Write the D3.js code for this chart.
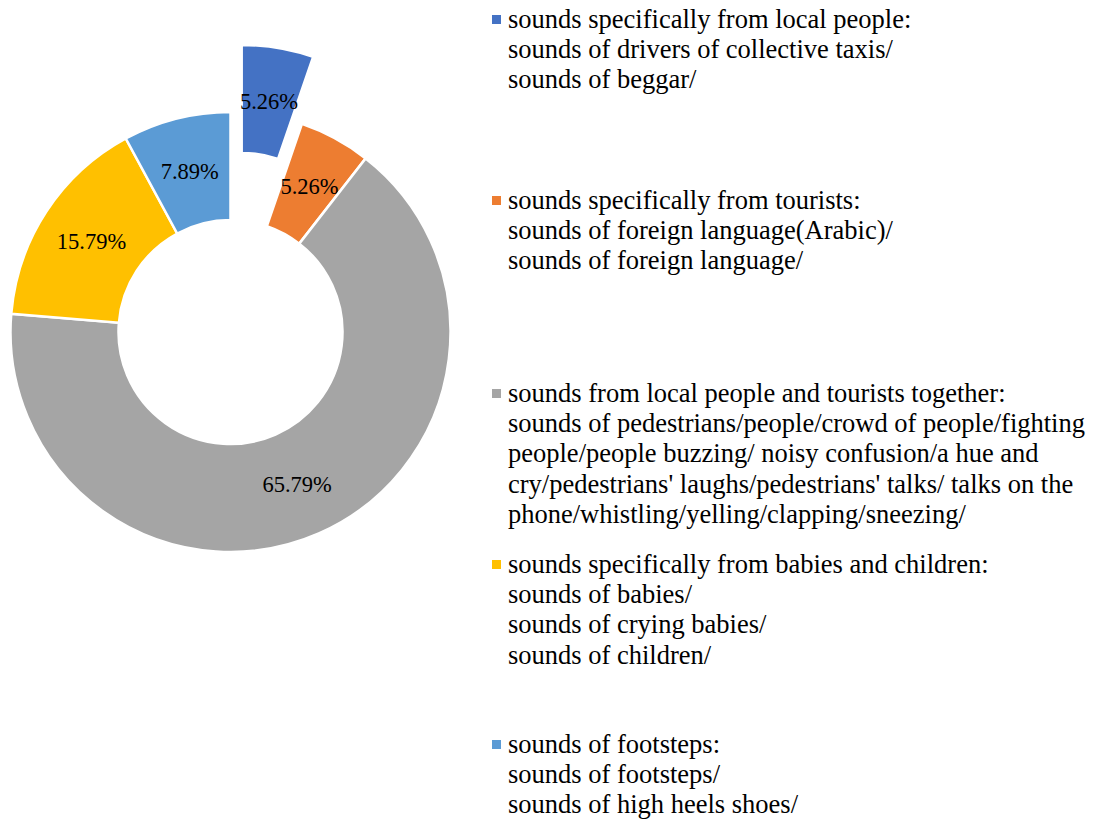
<!DOCTYPE html>
<html>
<head>
<meta charset="utf-8">
<script src="https://cdn.jsdelivr.net/npm/d3@7"></script>
<style>
  body { margin: 0; background: #fff; }
</style>
</head>
<body>
<div id="chart"></div>
<script>
// Slice counts (percent labels come from these)
const categories = [
  'local people',
  'tourists',
  'local people and tourists',
  'babies and children',
  'footsteps'
];
const values = [2, 2, 25, 6, 3];
const colors = ['#4472C4', '#ED7D31', '#A5A5A5', '#FFC000', '#5B9BD5'];
const exploded = [true, false, false, false, false];

// Legend texts, one array of lines per entry
const legendLines = [
  ['sounds specifically from local people:',
   'sounds of drivers of collective taxis/',
   'sounds of beggar/'],
  ['sounds specifically from tourists:',
   'sounds of foreign language(Arabic)/',
   'sounds of foreign language/'],
  ['sounds from local people and tourists together:',
   'sounds of pedestrians/people/crowd of people/fighting',
   'people/people buzzing/ noisy confusion/a hue and',
   "cry/pedestrians' laughs/pedestrians' talks/ talks on the",
   'phone/whistling/yelling/clapping/sneezing/'],
  ['sounds specifically from babies and children:',
   'sounds of babies/',
   'sounds of crying babies/',
   'sounds of children/'],
  ['sounds of footsteps:',
   'sounds of footsteps/',
   'sounds of high heels shoes/']
];

const width = 1096, height = 820;
const cx = 230.5, cy = 332;
const outerR = 220, innerR = 112;
const explodeBy = 68;
const serif = '"Liberation Serif", "Times New Roman", Times, serif';

const svg = d3.select('#chart')
  .append('svg')
    .attr('width', width)
    .attr('height', height)
    .attr('font-family', serif);

const total = d3.sum(values);
const pie = d3.pie().sort(null).value(d => d)(values);
const arc = d3.arc().innerRadius(innerR).outerRadius(outerR);

const g = svg.append('g')
  .attr('transform', `translate(${cx},${cy})`);

const slices = g.selectAll('g.slice')
  .data(pie)
  .enter()
  .append('g')
    .attr('class', 'slice')
    .attr('transform', (d, i) => {
      if (!exploded[i]) return null;
      const a = (d.startAngle + d.endAngle) / 2;
      return `translate(${explodeBy * Math.sin(a)},${-explodeBy * Math.cos(a)})`;
    });

slices.append('path')
  .attr('d', arc)
  .attr('fill', (d, i) => colors[i])
  .attr('stroke', '#fff')
  .attr('stroke-width', 2.5);

slices.append('text')
  .attr('transform', d => `translate(${arc.centroid(d)})`)
  .attr('text-anchor', 'middle')
  .attr('dy', '0.35em')
  .attr('font-family', serif)
  .attr('font-size', 22.5)
  .attr('fill', '#000')
  .text(d => (d.value / total * 100).toFixed(2) + '%');

// Legend
const legendTop = [28, 209, 402, 573, 753]; // baseline of first line
const lineH = 30.2;
const legend = svg.append('g');

legendLines.forEach((lines, i) => {
  const entry = legend.append('g');
  entry.append('rect')
    .attr('x', 492)
    .attr('y', legendTop[i] - 13)
    .attr('width', 9)
    .attr('height', 9)
    .attr('fill', colors[i]);
  entry.selectAll('text')
    .data(lines)
    .enter()
    .append('text')
      .attr('x', 508)
      .attr('y', (d, j) => legendTop[i] + j * lineH)
      .attr('font-family', serif)
      .attr('font-size', 26.5)
      .attr('fill', '#000')
      .text(d => d);
});
</script>
</body>
</html>
